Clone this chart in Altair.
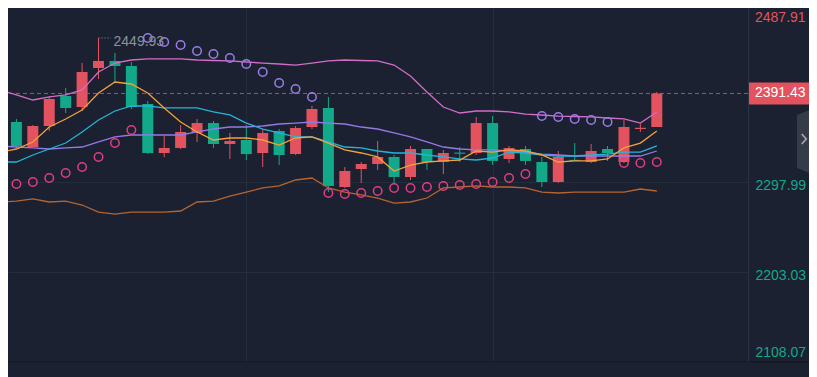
import altair as alt
import pandas as pd
import numpy as np

# ---- data ----
idx = list(range(41))
opens = [2345.5, 2361.3, 2334.9, 2357.1, 2388.7, 2377.1, 2418.3, 2425.7, 2420.4, 2380.3,
         2328.6, 2333.9, 2349.7, 2360.2, 2338.1, 2342.3, 2328.6, 2351.8, 2327.5, 2356.0,
         2376.1, 2292.7, 2311.7, 2317.0, 2324.4, 2303.3, 2332.8, 2319.1, 2329.0, 2328.6,
         2360.2, 2322.3, 2332.8, 2319.1, 2298.0, 2321.4, 2319.1, 2332.8, 2319.1, 2353.9, 2356.0]
closes = [2360.2, 2336.0, 2357.1, 2385.6, 2376.1, 2414.1, 2425.7, 2420.4, 2377.1, 2328.6,
          2333.9, 2350.8, 2360.2, 2338.1, 2341.3, 2327.5, 2349.7, 2326.5, 2355.0, 2375.0,
          2293.8, 2309.6, 2317.0, 2324.4, 2303.3, 2332.8, 2319.1, 2328.6, 2327.8, 2360.2,
          2320.2, 2333.9, 2320.2, 2298.0, 2324.4, 2320.2, 2330.7, 2328.6, 2356.0, 2355.2, 2391.43]
highs = [2377.1, 2364.5, 2358.1, 2388.7, 2397.2, 2423.6, 2449.93, 2434.1, 2424.6, 2383.5,
         2346.5, 2358.1, 2364.5, 2362.4, 2349.7, 2358.1, 2352.9, 2353.9, 2357.1, 2378.2,
         2387.7, 2313.8, 2319.1, 2341.3, 2326.5, 2336.0, 2332.8, 2331.8, 2334.9, 2366.6,
         2367.6, 2336.0, 2336.0, 2324.4, 2330.7, 2339.1, 2338.1, 2336.0, 2363.4, 2359.2, 2392.95]
lows = [2342.3, 2333.9, 2334.9, 2351.8, 2370.8, 2372.9, 2406.7, 2403.5, 2375.0, 2327.5,
        2324.4, 2332.8, 2340.2, 2333.9, 2322.3, 2321.2, 2313.8, 2315.9, 2326.5, 2353.9,
        2287.4, 2291.7, 2296.9, 2310.7, 2295.9, 2300.1, 2310.7, 2306.4, 2319.1, 2326.5,
        2315.9, 2318.0, 2315.9, 2292.7, 2296.9, 2320.2, 2318.0, 2320.2, 2318.0, 2350.8, 2356.0]
ma5 = [2329.6, 2332.8, 2340.2, 2356.0, 2364.5, 2374.0, 2391.9, 2403.5, 2401.4, 2391.9,
       2376.1, 2361.3, 2350.8, 2342.3, 2344.4, 2344.4, 2342.3, 2337.0, 2344.4, 2345.5,
       2339.1, 2331.8, 2328.6, 2324.4, 2309.6, 2315.9, 2319.1, 2320.2, 2321.2, 2330.7,
       2329.6, 2331.8, 2330.7, 2326.5, 2319.1, 2320.2, 2320.2, 2322.3, 2333.9, 2339.1, 2351.8]
ma10 = [2319.1, 2319.1, 2326.5, 2332.8, 2339.1, 2350.8, 2363.4, 2372.9, 2378.2, 2378.2,
        2376.1, 2376.1, 2376.1, 2371.9, 2368.7, 2360.2, 2353.9, 2349.7, 2345.5, 2345.5,
        2340.2, 2334.9, 2333.9, 2330.7, 2328.6, 2328.6, 2326.5, 2324.4, 2322.3, 2321.2,
        2323.3, 2329.6, 2328.6, 2326.5, 2325.4, 2325.4, 2326.5, 2327.5, 2329.6, 2329.6, 2336.0]
ma20 = [2336.0, 2334.9, 2333.9, 2332.8, 2333.9, 2334.9, 2340.2, 2345.5, 2347.6, 2347.6,
        2347.6, 2347.6, 2350.8, 2353.9, 2356.0, 2356.0, 2357.1, 2359.2, 2360.2, 2361.3,
        2360.2, 2359.2, 2356.0, 2353.9, 2349.7, 2345.5, 2340.2, 2334.9, 2332.8, 2331.8,
        2331.8, 2330.7, 2329.6, 2327.5, 2326.5, 2325.4, 2325.4, 2325.4, 2325.4, 2325.4, 2330.7]
upper = [2395.1, 2389.8, 2384.5, 2387.7, 2389.8, 2395.1, 2414.1, 2423.5, 2426.7, 2427.8,
         2427.8, 2427.8, 2426.7, 2426.2, 2425.7, 2424.6, 2423.5, 2422.5, 2421.4, 2423.5,
         2425.7, 2426.7, 2426.2, 2425.7, 2421.4, 2409.8, 2393.0, 2377.1, 2370.8, 2372.9,
         2372.9, 2371.9, 2369.7, 2368.7, 2367.6, 2367.1, 2366.6, 2365.5, 2364.5, 2360.2, 2371.9]
lower = [2276.9, 2277.9, 2280.1, 2276.9, 2277.9, 2273.7, 2266.3, 2264.2, 2266.3, 2266.3,
         2266.3, 2267.4, 2276.9, 2277.9, 2283.2, 2287.4, 2291.7, 2293.8, 2300.1, 2302.2,
         2291.7, 2287.4, 2284.3, 2281.1, 2275.8, 2276.9, 2281.1, 2291.7, 2292.7, 2293.8,
         2292.7, 2292.7, 2291.7, 2287.4, 2286.4, 2287.4, 2287.4, 2287.4, 2287.4, 2290.6, 2288.5]
sar = [2292.7, 2295.9, 2298.0, 2302.2, 2307.5, 2313.8, 2324.4, 2339.1, 2352.9, 2449.9,
       2445.7, 2442.5, 2436.2, 2433.0, 2428.8, 2422.5, 2414.0, 2402.4, 2396.1, 2387.7,
       2286.4, 2285.3, 2286.4, 2288.5, 2291.7, 2291.7, 2292.7, 2293.8, 2294.8, 2295.9,
       2298.0, 2302.2, 2306.4, 2367.6, 2366.6, 2364.5, 2363.4, 2361.3, 2318.0, 2318.0, 2319.1]
tick_values = [2108.07, 2203.03, 2297.99]
top_tick = [2487.91]
grid_x = [15, 30]

# ---- styles ----
BG = "#1b2130"
GRID = "#252c3a"
BORDER = "#2b3342"
RED = "#e2535f"
GREEN = "#12a98b"
GRAY = "#8c929e"
FONT = "Liberation Sans"
FS = 14

df = pd.DataFrame({"i": idx, "open": opens, "close": closes, "high": highs, "low": lows,
                   "ma5": ma5, "ma10": ma10, "ma20": ma20, "upper": upper, "lower": lower,
                   "sar": sar})
df["dir"] = np.where(df["close"] >= df["open"], "up", "down")
df["side"] = np.where(df["sar"] > df["high"], "above", "below")

last_price = closes[-1]
last = pd.DataFrame({"v": [last_price], "label": [f"{last_price:.2f}"]})
hi_i = int(np.argmax(highs))
hi = pd.DataFrame({"i": [hi_i], "i2": [hi_i + 0.75], "v": [highs[hi_i]],
                   "label": [f"{highs[hi_i]:.2f}"]})
top = pd.DataFrame({"v": top_tick, "label": [f"{v:.2f}" for v in top_tick]})

xs = alt.Scale(domain=[0.487, 45.554], nice=False, zero=False, padding=0)
ys = alt.Scale(domain=[2108.07, 2481.58], nice=False, zero=False, padding=0)

xaxis = alt.Axis(values=grid_x, grid=True, gridColor=GRID, labels=False, ticks=False,
                 domain=False, title=None)
yaxis = alt.Axis(orient="right", values=tick_values, format=".2f", title=None, ticks=False,
                 grid=True, gridColor=GRID, domain=True, domainColor=BORDER,
                 labelColor=GREEN,
                 labelOffset={"condition": {"test": "datum.value < 2150", "value": -10},
                              "value": 3},
                 labelFont=FONT, labelFontSize=FS, labelPadding=7, labelBaseline="middle",
                 labelAlign="left", labelFlush=False, labelOverlap=False)


def X(f):
    return alt.X(f"{f}:Q", scale=xs, axis=xaxis)


def Y(f):
    return alt.Y(f"{f}:Q", scale=ys, axis=yaxis)


base = alt.Chart(df)
cdir = alt.Color("dir:N", scale=alt.Scale(domain=["up", "down"], range=[RED, GREEN]), legend=None)

price_line = alt.Chart(last).mark_rule(color="#c4474f", strokeDash=[4, 3], strokeWidth=1).encode(
    y=Y("v"))

wicks = base.mark_rule(strokeWidth=1, clip=True).encode(x=X("i"), y=Y("low"), y2="high:Q", color=cdir)
bodies = base.mark_bar(size=11, clip=True).encode(x=X("i"), y=Y("open"), y2="close:Q", color=cdir)

lines = []
for col, colr in [("lower", "#b5652f"), ("upper", "#d46cc8"), ("ma20", "#9479e8"),
                  ("ma10", "#22b5d8"), ("ma5", "#f5a03a")]:
    lines.append(base.mark_line(color=colr, strokeWidth=1.3, clip=True).encode(x=X("i"), y=Y(col)))

circles = base.mark_point(shape="circle", filled=False, size=72, strokeWidth=1.5, opacity=1,
                          clip=True).encode(
    x=X("i"), y=Y("sar"),
    stroke=alt.Stroke("side:N", scale=alt.Scale(domain=["above", "below"],
                                                range=["#9a7be8", "#e23c82"]), legend=None))

hi_rule = alt.Chart(hi).mark_rule(color=GRAY, strokeDash=[1, 2], strokeWidth=1).encode(
    x=X("i"), x2="i2:Q", y=Y("v"))
hi_text = alt.Chart(hi).mark_text(align="left", baseline="middle", dx=15, dy=4, color=GRAY,
                                  font=FONT, fontSize=14).encode(x=X("i"), y=Y("v"), text="label:N")

top_text = alt.Chart(top).mark_text(align="left", baseline="middle", dy=16, color=RED, font=FONT,
                                    fontSize=FS, clip=False).encode(
    x=alt.value(747), y=Y("v"), text="label:N")

box = alt.Chart(last).mark_point(shape="M-1,-0.3667L1,-0.3667L1,0.3667L-1,0.3667Z", size=3600,
                                 filled=True, color=RED, opacity=1, clip=False).encode(
    x=alt.value(771), y=Y("v"))
box_text = alt.Chart(last).mark_text(align="left", baseline="middle", color="white", font=FONT,
                                     fontSize=FS, clip=False).encode(
    x=alt.value(747), y=Y("v"), text="label:N")

side_btn = alt.Chart(last).mark_point(shape="M-0.29,-0.768L0.29,-1L0.29,1L-0.29,0.768Z", size=4761,
                                      filled=True, color="#363b48", opacity=1, clip=False).encode(
    x=alt.value(799), y=alt.value(133.5))
chevron = alt.Chart(last).mark_point(shape="M-0.45,-1L0.45,0L-0.45,1", size=100, filled=False,
                                     color="#9ea3ad", strokeWidth=1.8, opacity=1, clip=False).encode(
    x=alt.value(796), y=alt.value(131))
bottom = alt.Chart(last).mark_rule(color="#11151c", strokeWidth=1, clip=False).encode(
    x=alt.value(-10), x2=alt.value(820), y=alt.value(354))

chart = alt.layer(price_line, wicks, bodies, *lines, circles, hi_rule, hi_text, top_text,
                  box, box_text, side_btn, chevron, bottom).resolve_scale(
    color="independent", stroke="independent").properties(
    width=740, height=354, autosize=alt.AutoSizeParams(type="none"),
    padding={"left": 0, "top": 0, "right": 61, "bottom": 15}, background=BG
).configure_view(stroke=None)

chart.save("out.html", embed_options={"renderer": "svg", "actions": False})
